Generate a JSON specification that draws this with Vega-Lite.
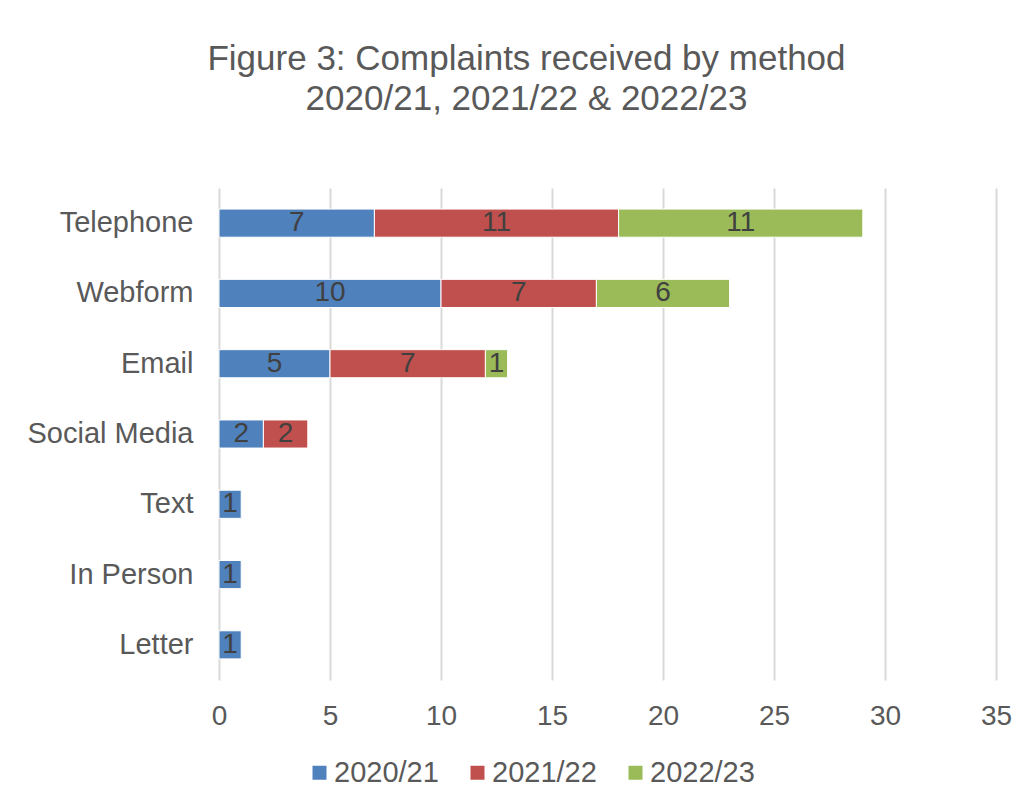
{
  "$schema": "https://vega.github.io/schema/vega-lite/v6.json",
  "width": 777,
  "height": 492,
  "autosize": {"type": "none"},
  "padding": {"left": 219, "top": 188, "right": 32, "bottom": 125},
  "background": "white",
  "title": {
    "text": ["Figure 3: Complaints received by method", "2020/21, 2021/22 & 2022/23"],
    "anchor": "middle",
    "frame": "group",
    "dx": -81,
    "offset": 71,
    "fontSize": 35,
    "lineHeight": 40,
    "font": "Liberation Sans",
    "fontWeight": "normal",
    "color": "#595959"
  },
  "config": {
    "view": {"stroke": null},
    "font": "Liberation Sans"
  },
  "data": {
    "values": [
      {"method": "Telephone", "year": "2020/21", "count": 7},
      {"method": "Telephone", "year": "2021/22", "count": 11},
      {"method": "Telephone", "year": "2022/23", "count": 11},
      {"method": "Webform", "year": "2020/21", "count": 10},
      {"method": "Webform", "year": "2021/22", "count": 7},
      {"method": "Webform", "year": "2022/23", "count": 6},
      {"method": "Email", "year": "2020/21", "count": 5},
      {"method": "Email", "year": "2021/22", "count": 7},
      {"method": "Email", "year": "2022/23", "count": 1},
      {"method": "Social Media", "year": "2020/21", "count": 2},
      {"method": "Social Media", "year": "2021/22", "count": 2},
      {"method": "Text", "year": "2020/21", "count": 1},
      {"method": "In Person", "year": "2020/21", "count": 1},
      {"method": "Letter", "year": "2020/21", "count": 1}
    ]
  },
  "transform": [
    {"stack": "count", "groupby": ["method"], "sort": [{"field": "year", "order": "ascending"}], "as": ["v0", "v1"]},
    {"calculate": "(datum.v0 + datum.v1) / 2", "as": "mid"}
  ],
  "encoding": {
    "y": {
      "field": "method",
      "type": "nominal",
      "sort": ["Telephone", "Webform", "Email", "Social Media", "Text", "In Person", "Letter"],
      "scale": {"paddingInner": 0.6, "paddingOuter": 0.3},
      "axis": {
        "title": null,
        "domain": false,
        "ticks": false,
        "labelFontSize": 29,
        "labelColor": "#595959",
        "labelPadding": 26,
        "labelFont": "Liberation Sans"
      }
    }
  },
  "layer": [
    {
      "mark": {"type": "bar", "stroke": "white", "strokeWidth": 1},
      "encoding": {
        "x": {
          "field": "v0",
          "type": "quantitative",
          "scale": {"domain": [0, 35], "nice": false},
          "axis": {
            "title": null,
            "values": [0, 5, 10, 15, 20, 25, 30, 35],
            "domain": false,
            "ticks": false,
            "grid": true,
            "gridColor": "#d9d9d9",
            "gridWidth": 2,
            "labelFlush": false,
            "labelFontSize": 28,
            "labelColor": "#595959",
            "labelPadding": 22,
            "labelFont": "Liberation Sans"
          }
        },
        "x2": {"field": "v1"},
        "color": {
          "field": "year",
          "type": "nominal",
          "scale": {"domain": ["2020/21", "2021/22", "2022/23"], "range": ["#4F81BD", "#C0504D", "#9BBB59"]},
          "legend": {
            "title": null,
            "orient": "none",
            "direction": "horizontal",
            "legendX": 86,
            "legendY": 570,
            "padding": 0,
            "symbolType": "square",
            "symbolSize": 196,
            "symbolStrokeWidth": 0,
            "labelFontSize": 29,
            "labelColor": "#595959",
            "labelFont": "Liberation Sans",
            "labelOffset": 0,
            "columnPadding": 24
          }
        }
      }
    },
    {
      "mark": {"type": "text", "fontSize": 28, "color": "#404040", "font": "Liberation Sans", "baseline": "middle", "align": "center"},
      "encoding": {
        "x": {"field": "mid", "type": "quantitative"},
        "text": {"field": "count", "type": "quantitative"}
      }
    }
  ]
}
